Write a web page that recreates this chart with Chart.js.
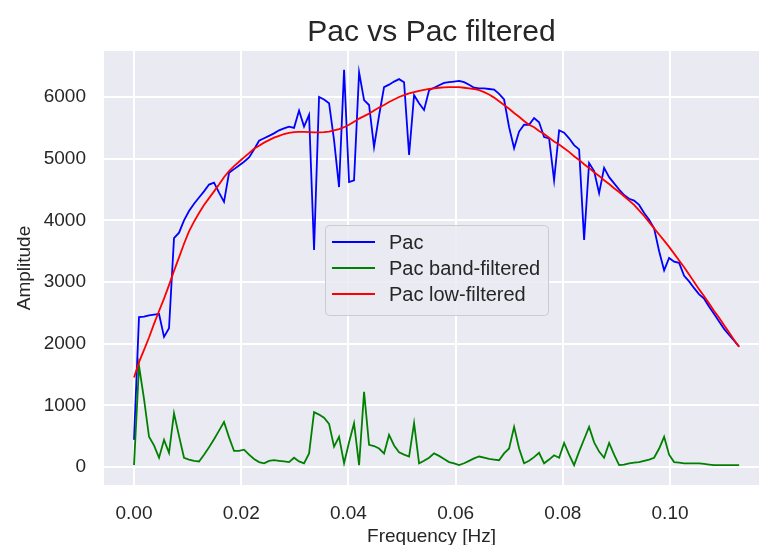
<!DOCTYPE html>
<html>
<head>
<meta charset="utf-8">
<script src="https://cdn.jsdelivr.net/npm/chart.js@4.4.0/dist/chart.umd.min.js"></script>
<style>
  html, body { margin: 0; padding: 0; background: #fff; }
  #chart { display: block; }
</style>
</head>
<body>
<canvas id="chart" width="759" height="545"></canvas>
<script>
// FFT bins (Hz)
const freq = [
  0, 0.00093, 0.00187, 0.00280, 0.00373, 0.00467, 0.00560, 0.00653, 0.00746, 0.00840,
  0.00933, 0.01026, 0.01120, 0.01213, 0.01306, 0.01400, 0.01493, 0.01586, 0.01679, 0.01773,
  0.01866, 0.01959, 0.02053, 0.02146, 0.02239, 0.02333, 0.02426, 0.02519, 0.02612, 0.02706,
  0.02799, 0.02892, 0.02986, 0.03079, 0.03172, 0.03266, 0.03359, 0.03452, 0.03545, 0.03639,
  0.03732, 0.03825, 0.03919, 0.04012, 0.04105, 0.04199, 0.04292, 0.04385, 0.04478, 0.04572,
  0.04665, 0.04758, 0.04852, 0.04945, 0.05038, 0.05132, 0.05225, 0.05318, 0.05411, 0.05505,
  0.05598, 0.05691, 0.05785, 0.05878, 0.05971, 0.06065, 0.06158, 0.06251, 0.06344, 0.06438,
  0.06531, 0.06624, 0.06718, 0.06811, 0.06904, 0.06998, 0.07091, 0.07184, 0.07277, 0.07371,
  0.07464, 0.07557, 0.07651, 0.07744, 0.07837, 0.07931, 0.08024, 0.08117, 0.08210, 0.08304,
  0.08397, 0.08490, 0.08584, 0.08677, 0.08770, 0.08864, 0.08957, 0.09050, 0.09143, 0.09237,
  0.09330, 0.09423, 0.09517, 0.09610, 0.09703, 0.09797, 0.09890, 0.09983, 0.10076, 0.10170,
  0.10263, 0.10356, 0.10450, 0.10543, 0.10636, 0.10730, 0.10823, 0.10916, 0.11009, 0.11103,
  0.11196, 0.11289
];

// raw amplitude spectrum
const pac = [
  440, 2430, 2440, 2460, 2470, 2480, 2110, 2250, 3710, 3800,
  4000, 4150, 4270, 4370, 4470, 4580, 4610, 4450, 4300, 4770,
  4830, 4890, 4950, 5020, 5150, 5290, 5330, 5370, 5410, 5460,
  5490, 5520, 5500, 5780, 5520, 5710, 3520, 6000, 5960, 5900,
  5300, 4540, 6440, 4620, 4650, 6400, 5950, 5870, 5190, 5700,
  6160, 6200, 6250, 6290, 6240, 5060, 6030, 5900, 5790, 6110,
  6150, 6190, 6230, 6240, 6250, 6260, 6240, 6200, 6150, 6140,
  6140, 6130, 6120, 6050, 5960, 5510, 5170, 5440, 5550, 5550,
  5660, 5590, 5350, 5330, 4650, 5460, 5420, 5330, 5220, 5150,
  3680, 4930, 4800, 4440, 4850, 4700, 4600, 4500, 4410, 4350,
  4320, 4250, 4120, 4010, 3870, 3500, 3190, 3390, 3330, 3310,
  3100, 3010, 2900, 2800, 2730, 2600, 2480, 2360, 2240, 2140,
  2050, 1950
];

// band-pass filtered
const pacBand = [
  30, 1640, 1100, 490, 350, 150, 440, 230, 870, 500,
  150, 120, 100, 90, 200, 320, 450, 590, 730, 480,
  260, 260, 280, 200, 130, 80, 60, 100, 110, 100,
  90, 80, 150, 90, 60, 220, 890, 850, 800, 700,
  330, 490, 60, 400, 710, 30, 1220, 360, 340, 300,
  220, 520, 350, 240, 200, 170, 710, 60, 100, 150,
  220, 180, 130, 80, 60, 30, 60, 100, 140, 170,
  150, 130, 120, 110, 220, 300, 650, 300, 60, 100,
  160, 230, 60, 120, 190, 150, 390, 200, 30, 250,
  450, 650, 400, 250, 150, 390, 200, 30, 40, 60,
  70, 80, 100, 120, 150, 300, 490, 200, 80, 70,
  60, 60, 60, 60, 50, 40, 30, 30, 30, 30,
  30, 30
];

// low-pass filtered
const pacLow = [
  1450, 1700, 1900, 2100, 2320, 2530, 2730, 2950, 3180, 3400,
  3620, 3820, 3980, 4120, 4250, 4360, 4470, 4580, 4700, 4800,
  4880, 4950, 5020, 5090, 5160, 5210, 5260, 5300, 5340, 5370,
  5400, 5420, 5430, 5435, 5435, 5430, 5425, 5425, 5430, 5440,
  5460, 5480, 5510, 5550, 5600, 5650, 5690, 5730, 5780, 5830,
  5870, 5920, 5960, 6000, 6030, 6060, 6080, 6100, 6115, 6130,
  6140, 6150, 6155, 6160, 6160, 6160, 6150, 6140, 6130, 6110,
  6080, 6040, 5990, 5930, 5870, 5810, 5740, 5680, 5610, 5550,
  5510, 5450, 5400, 5340, 5280, 5230, 5170, 5110, 5040, 4980,
  4910, 4850, 4780, 4720, 4650, 4590, 4520, 4460, 4390, 4320,
  4250, 4160, 4070, 3970, 3870, 3770, 3670, 3570, 3460, 3350,
  3240, 3120, 3000, 2880, 2770, 2650, 2530, 2420, 2300, 2180,
  2060, 1950
];

const xTicks = [0, 0.02, 0.04, 0.06, 0.08, 0.10];
const yTicks = [0, 1000, 2000, 3000, 4000, 5000, 6000];

const seriesNames = ['Pac', 'Pac band-filtered', 'Pac low-filtered'];
const seriesColors = ['#0000ff', '#008000', '#ff0000'];

const FONT = '"Liberation Sans", Arial, sans-serif';
const TEXT = '#262626';

function toPoints(ys) {
  return ys.map((y, i) => ({ x: freq[i], y: y }));
}

// darkgrid background, title and the in-plot legend
const panel = {
  id: 'panel',
  beforeDraw(chart) {
    const { ctx, chartArea: a } = chart;
    ctx.save();
    ctx.fillStyle = '#eaeaf2';
    ctx.fillRect(a.left, a.top, a.right - a.left, a.bottom - a.top);
    ctx.restore();
  },
  afterDraw(chart) {
    const { ctx, chartArea: a } = chart;
    ctx.save();
    ctx.fillStyle = TEXT;
    ctx.font = '30px ' + FONT;
    ctx.textAlign = 'center';
    ctx.textBaseline = 'alphabetic';
    ctx.fillText('Pac vs Pac filtered', (a.left + a.right) / 2, 41);

    // legend box
    const bx = 325, by = 225, bw = 223, bh = 90;
    ctx.beginPath();
    ctx.roundRect(bx + 0.5, by + 0.5, bw, bh, 4);
    ctx.fillStyle = 'rgba(234,234,242,0.85)';
    ctx.fill();
    ctx.strokeStyle = '#cccccc';
    ctx.lineWidth = 1;
    ctx.stroke();

    ctx.font = '20px ' + FONT;
    ctx.textAlign = 'left';
    ctx.textBaseline = 'middle';
    seriesNames.forEach((name, i) => {
      const y = 242 + i * 26;
      ctx.beginPath();
      ctx.moveTo(332, y);
      ctx.lineTo(375, y);
      ctx.strokeStyle = seriesColors[i];
      ctx.lineWidth = 1.8;
      ctx.stroke();
      ctx.fillStyle = TEXT;
      ctx.fillText(name, 389, y + 1);
    });
    ctx.restore();
  }
};

const lineStyle = (i) => ({
  label: seriesNames[i],
  borderColor: seriesColors[i],
  backgroundColor: seriesColors[i],
  borderWidth: 1.8,
  pointRadius: 0,
  tension: 0,
  fill: false,
  order: 3 - i
});

new Chart(document.getElementById('chart'), {
  type: 'line',
  data: {
    datasets: [
      Object.assign(lineStyle(0), { data: toPoints(pac) }),
      Object.assign(lineStyle(1), { data: toPoints(pacBand) }),
      Object.assign(lineStyle(2), { data: toPoints(pacLow) })
    ]
  },
  options: {
    responsive: false,
    animation: false,
    devicePixelRatio: 1,
    events: [],
    layout: { padding: { top: 51, left: 0, right: 0, bottom: 0 } },
    plugins: {
      legend: { display: false },
      tooltip: { enabled: false },
      title: { display: false }
    },
    scales: {
      x: {
        type: 'linear',
        min: -0.0056,
        max: 0.1166,
        afterBuildTicks: s => { s.ticks = xTicks.map(v => ({ value: v })); },
        afterFit: s => { s.height = 60; },
        border: { display: false },
        grid: { color: '#ffffff', lineWidth: 2, drawTicks: false },
        ticks: {
          autoSkip: false,
          maxRotation: 0,
          padding: 17,
          color: TEXT,
          font: { family: FONT, size: 19 },
          callback: v => v.toFixed(2)
        },
        title: {
          display: true,
          text: 'Frequency [Hz]',
          color: TEXT,
          font: { family: FONT, size: 19 },
          padding: { top: 0, bottom: -3 }
        }
      },
      y: {
        type: 'linear',
        min: -292,
        max: 6746,
        afterBuildTicks: s => { s.ticks = yTicks.map(v => ({ value: v })); },
        afterFit: s => { s.width = 104; },
        border: { display: false },
        grid: { color: '#ffffff', lineWidth: 2, drawTicks: false },
        ticks: {
          autoSkip: false,
          padding: 18,
          color: TEXT,
          font: { family: FONT, size: 19 },
          callback: v => String(v)
        },
        title: {
          display: true,
          text: 'Amplitude',
          color: TEXT,
          font: { family: FONT, size: 19 },
          padding: { top: 13, bottom: 0 }
        }
      }
    }
  },
  plugins: [panel]
});
</script>
</body>
</html>
